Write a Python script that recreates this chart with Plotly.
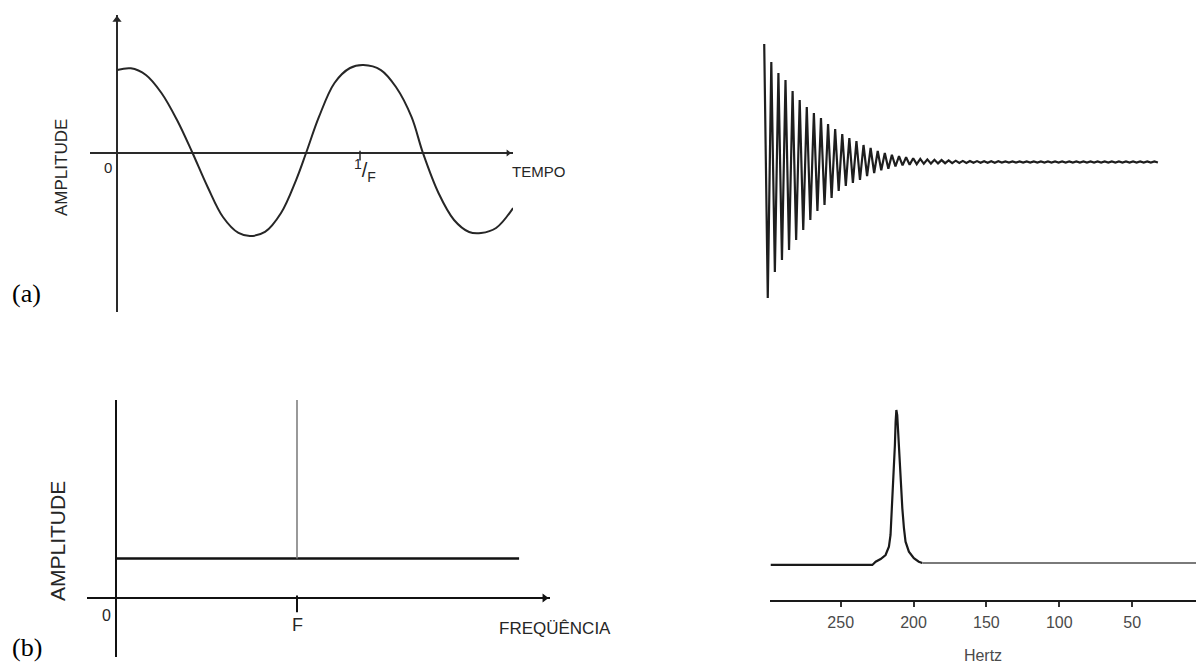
import plotly.graph_objects as go

W, H = 1196, 666

# ---- (a) left: one cosine over ~1.6 periods (time in units of 1/F) ----
wave_t = [0.001, 0.057, 0.119, 0.183, 0.247, 0.309, 0.373, 0.436, 0.500, 0.547,
          0.609, 0.675, 0.737, 0.778, 0.831, 0.895, 0.959, 1.014, 1.086, 1.148,
          1.212, 1.259, 1.323, 1.387, 1.449, 1.498, 1.560, 1.630]
wave_amp = [0.976, 0.996, 0.918, 0.706, 0.388, 0.012, -0.400, -0.753, -0.941, -0.976,
            -0.929, -0.706, -0.318, 0.000, 0.424, 0.824, 1.000, 1.035, 0.976, 0.776,
            0.424, 0.000, -0.471, -0.788, -0.929, -0.941, -0.882, -0.647]
period_ticks = [1.0]

# ---- (a) right: decaying FID, positive / negative excursion of each cycle ----
fid_top = [1.18, 1.00, 0.89, 0.82, 0.71, 0.62, 0.55, 0.49, 0.44, 0.38,
           0.33, 0.28, 0.24, 0.21, 0.17, 0.14, 0.11, 0.09, 0.073, 0.058,
           0.047, 0.038, 0.031, 0.026, 0.022, 0.019, 0.016, 0.013, 0.011, 0.010,
           0.009, 0.008, 0.007, 0.007, 0.006, 0.006, 0.006, 0.006, 0.005, 0.005,
           0.005, 0.005, 0.005, 0.005, 0.005, 0.005, 0.005, 0.005, 0.005, 0.005,
           0.005, 0.005, 0.005, 0.005, 0.005, 0.005]
fid_bottom = [-1.36, -1.10, -0.98, -0.88, -0.78, -0.68, -0.58, -0.49, -0.43, -0.36,
              -0.29, -0.24, -0.21, -0.18, -0.14, -0.11, -0.083, -0.067, -0.045, -0.034,
              -0.027, -0.021, -0.018, -0.016, -0.014, -0.012, -0.011, -0.010, -0.009, -0.008,
              -0.008, -0.007, -0.007, -0.006, -0.006, -0.006, -0.006, -0.005, -0.005, -0.005,
              -0.005, -0.005, -0.005, -0.005, -0.005, -0.005, -0.005, -0.005, -0.005, -0.005,
              -0.005, -0.005, -0.005, -0.005, -0.005, -0.005]

# ---- (b) left: spectrum of the cosine (flat level + line at F) ----
flat_f = [0.0, 2.227]
flat_amp = [1.0, 1.0]
line_f = [1.0, 1.0]
line_amp = [1.0, 5.0]
freq_ticks = [1.0]

# ---- (b) right: NMR spectrum in Hertz ----
spec_hz = [298, 228.3, 226.0, 222.6, 219.2, 216.9, 215.8, 215.3, 214.6, 213.5,
           212.8, 212.3, 211.8, 211.2, 210.1, 209.4, 208.4, 207.7, 206.6, 205.5,
           203.2, 199.8, 196.4, 194.0]
spec_amp = [-0.013, -0.013, 0.008, 0.026, 0.052, 0.107, 0.183, 0.27, 0.423, 0.597,
            0.771, 0.923, 1.0, 0.967, 0.771, 0.597, 0.444, 0.357, 0.227, 0.139,
            0.074, 0.031, 0.008, 0.0]
tail_hz = [194.0, 5.0]
tail_amp = [0.0, 0.0]
hz_ticks = [250, 200, 150, 100, 50]

# axis ranges of the two hand-drawn panels
A_X = [-0.1111, 1.6296]
A_Y = [-1.8706, 1.6235]
B_X = [-0.1602, 2.3978]
B_Y = [-1.5, 5.0]


def xdom(left, right):
    return [left / W, right / W]


def ydom(top, bottom):
    return [1 - bottom / H, 1 - top / H]


SANS = "Liberation Sans, Arial, sans-serif"
SERIF = "Liberation Serif, Times New Roman, serif"
INK = "#262626"

# interleave the FID extremes into one zig-zag trace
fid_x, fid_y = [], []
for k, (hi, lo) in enumerate(zip(fid_top, fid_bottom)):
    fid_x += [k, k + 0.5]
    fid_y += [hi, lo]

fig = go.Figure()
fig.add_trace(go.Scatter(x=wave_t, y=wave_amp, mode="lines", xaxis="x", yaxis="y",
                         line=dict(color=INK, width=2, shape="spline", smoothing=1)))
fig.add_trace(go.Scatter(x=flat_f, y=flat_amp, mode="lines", xaxis="x2", yaxis="y2",
                         line=dict(color="#111", width=2.5)))
fig.add_trace(go.Scatter(x=line_f, y=line_amp, mode="lines", xaxis="x2", yaxis="y2",
                         line=dict(color="#808080", width=1.6)))
fig.add_trace(go.Scatter(x=fid_x, y=fid_y, mode="lines", xaxis="x3", yaxis="y3",
                         line=dict(color="#1e1e1e", width=2.2)))
fig.add_trace(go.Scatter(x=spec_hz, y=spec_amp, mode="lines", xaxis="x4", yaxis="y4",
                         line=dict(color="#1a1a1a", width=2.2)))
fig.add_trace(go.Scatter(x=tail_hz, y=tail_amp, mode="lines", xaxis="x4", yaxis="y4",
                         line=dict(color="#7a7a7a", width=2)))

# tick marks on the hand-drawn axes
fig.add_trace(go.Scatter(x=period_ticks, y=[-0.03], mode="markers", xaxis="x", yaxis="y",
                         marker=dict(symbol="line-ns", size=7, line=dict(color=INK, width=1.5))))
fig.add_trace(go.Scatter(x=freq_ticks, y=[-0.15], mode="markers", xaxis="x2", yaxis="y2",
                         marker=dict(symbol="line-ns", size=12, line=dict(color="#111", width=2))))

# arrow heads at the ends of the hand-drawn axes
fig.add_trace(go.Scatter(x=[0.0], y=[A_Y[1] - 0.055], mode="markers", xaxis="x", yaxis="y",
                         marker=dict(symbol="triangle-up", size=8, color=INK)))
fig.add_trace(go.Scatter(x=[A_X[1] - 0.02], y=[0.0], mode="markers", xaxis="x", yaxis="y",
                         marker=dict(symbol="triangle-right", size=6, color=INK)))
fig.add_trace(go.Scatter(x=[B_X[1] - 0.03], y=[0.0], mode="markers", xaxis="x2", yaxis="y2",
                         marker=dict(symbol="triangle-right", size=8, color="#111")))

hidden = dict(showgrid=False, showticklabels=False, ticks="", showline=False, fixedrange=True)
axis0 = dict(hidden, zeroline=True, zerolinecolor="#2a2a2a", zerolinewidth=2)

fig.update_layout(
    width=W, height=H, margin=dict(l=0, r=0, t=0, b=0),
    paper_bgcolor="white", plot_bgcolor="rgba(0,0,0,0)", showlegend=False,
    xaxis=dict(axis0, domain=xdom(90, 513), range=A_X, anchor="y"),
    yaxis=dict(axis0, domain=ydom(15, 312), range=A_Y, anchor="x"),
    xaxis2=dict(axis0, domain=xdom(87, 550), range=B_X, anchor="y2", zerolinecolor="#111"),
    yaxis2=dict(axis0, domain=ydom(400, 657.4), range=B_Y, anchor="x2", zerolinecolor="#111"),
    xaxis3=dict(hidden, zeroline=False, domain=xdom(755, 1165), range=[-1.3, 56.5], anchor="y3"),
    yaxis3=dict(hidden, zeroline=False, domain=ydom(40, 302), range=[-1.40, 1.22], anchor="x3"),
    xaxis4=dict(domain=xdom(770, 1196), range=[298.5, 6.2], anchor="y4", fixedrange=True,
                showgrid=False, zeroline=False, showline=True, linecolor="#1a1a1a", linewidth=2,
                ticks="outside", ticklen=5, tickwidth=1.5, tickcolor="#333",
                tickvals=hz_ticks, ticktext=[str(v) for v in hz_ticks],
                tickfont=dict(family=SANS, size=16, color="#4a4a4a"), ticklabelstandoff=2,
                title=dict(text="Hertz", font=dict(family=SANS, size=16, color="#4a4a4a"),
                           standoff=20)),
    yaxis4=dict(hidden, zeroline=False, visible=False, domain=ydom(400, 600),
                range=[-0.242, 1.065], anchor="x4"),
)


def label(text, x, y, ref, size, family=SANS, angle=0, color=INK):
    fig.add_annotation(text=text, x=x, y=y, xref=ref[0], yref=ref[1], showarrow=False,
                       textangle=angle, font=dict(family=family, size=size, color=color),
                       xanchor="center", yanchor="middle")


def page_label(text, px, py, size, family=SANS, angle=0, color=INK):
    # labels that sit outside a panel's data range are placed on the page
    fig.add_annotation(text=text, x=px / W, y=1 - py / H, xref="paper", yref="paper",
                       showarrow=False, textangle=angle, xanchor="center", yanchor="middle",
                       font=dict(family=family, size=size, color=color))


A = ("x", "y")
B = ("x2", "y2")

# panel (a) left
label("0", -0.037, -0.165, A, 15)
label("<sup>1</sup>/<sub>F</sub>", 1.02, -0.2, A, 20)
page_label("TEMPO", 538, 172, 15)
page_label("AMPLITUDE", 62, 168, 17, angle=-90)

# panel (b) left
label("0", -0.05, -0.43, B, 16)
label("F", 1.0, -0.68, B, 18)
page_label("FREQÜÊNCIA", 555, 628, 17)
page_label("AMPLITUDE", 57, 541, 21, angle=-90)

# panel tags
page_label("(a)", 26, 293, 26, family=SERIF, color="black")
page_label("(b)", 27, 647, 26, family=SERIF, color="black")

fig.write_html("out.html")
